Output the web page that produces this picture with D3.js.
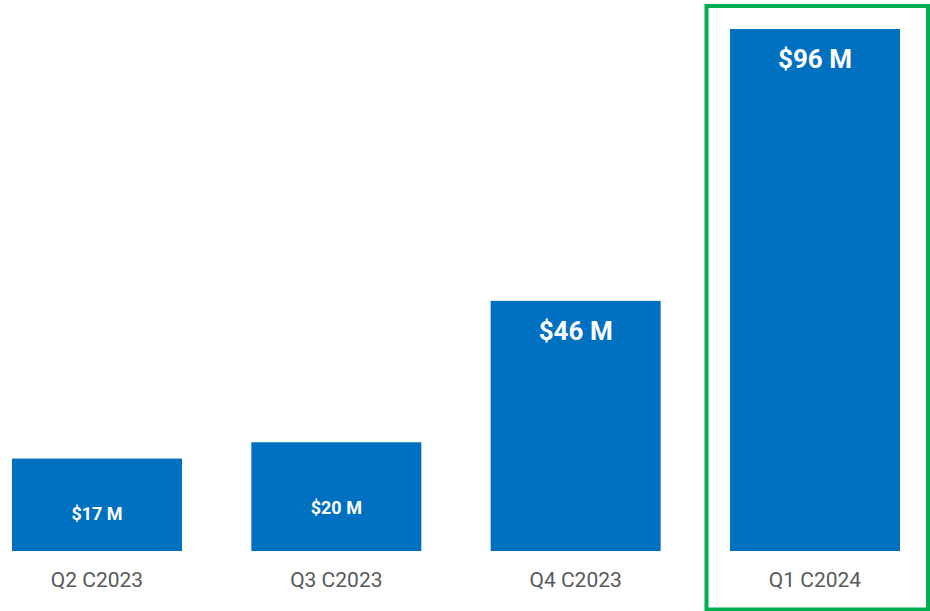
<!DOCTYPE html>
<meta charset="utf-8">
<script src="https://d3js.org/d3.v7.min.js"></script>
<style>
  body { margin: 0; background: #fff; }
  text { font-family: Roboto, "Open Sans", sans-serif; }
</style>
<div id="chart"></div>
<script>

// chart data
var quarters = ["Q2 C2023", "Q3 C2023", "Q4 C2023", "Q1 C2024"];
var revenue = [17, 20, 46, 96];
var valueLabels = ["$17 M", "$20 M", "$46 M", "$96 M"];

var width = 930, height = 611;

var svg = d3.select("#chart")
  .append("svg")
    .attr("width", width)
    .attr("height", height);

var x = d3.scaleBand()
    .domain(quarters)
    .range([12, 900])
    .paddingInner(1 - 170 / 239.33)
    .paddingOuter(0);

var y = d3.scaleLinear()
    .domain([0, 96])
    .range([551, 29]);

// bars
svg.selectAll(".bar")
  .data(quarters)
  .enter()
  .append("rect")
    .attr("class", "bar")
    .attr("x", function(d) { return x(d); })
    .attr("width", x.bandwidth())
    .attr("y", function(d, i) { return y(revenue[i]); })
    .attr("height", function(d, i) { return y(0) - y(revenue[i]); })
    .attr("fill", "#0070C0");

// value labels: small bars get a smaller label lower down
svg.selectAll(".val")
  .data(quarters)
  .enter()
  .append("text")
    .attr("class", "val")
    .attr("x", function(d) { return x(d) + x.bandwidth() / 2; })
    .attr("y", function(d, i) {
      var top = y(revenue[i]);
      if (revenue[i] < 30) return top + (y(0) - top) * 0.66;
      return top + 39;
    })
    .attr("text-anchor", "middle")
    .attr("fill", "#fff")
    .style("font-weight", "bold")
    .style("font-size", function(d, i) { return revenue[i] < 30 ? "18px" : "26px"; })
    .text(function(d, i) { return valueLabels[i]; });

// category labels
svg.selectAll(".cat")
  .data(quarters)
  .enter()
  .append("text")
    .attr("class", "cat")
    .attr("x", function(d) { return x(d) + x.bandwidth() / 2; })
    .attr("y", 587)
    .attr("text-anchor", "middle")
    .attr("fill", "#595959")
    .style("font-size", "21px")
    .text(function(d) { return d; });

// highlight box around the latest quarter
var last = quarters[quarters.length - 1];
svg.append("rect")
    .attr("x", x(last) - 23.5)
    .attr("y", 6)
    .attr("width", x.bandwidth() + 51.5)
    .attr("height", 603.5)
    .attr("fill", "none")
    .attr("stroke", "#00B050")
    .attr("stroke-width", 4);

</script>
